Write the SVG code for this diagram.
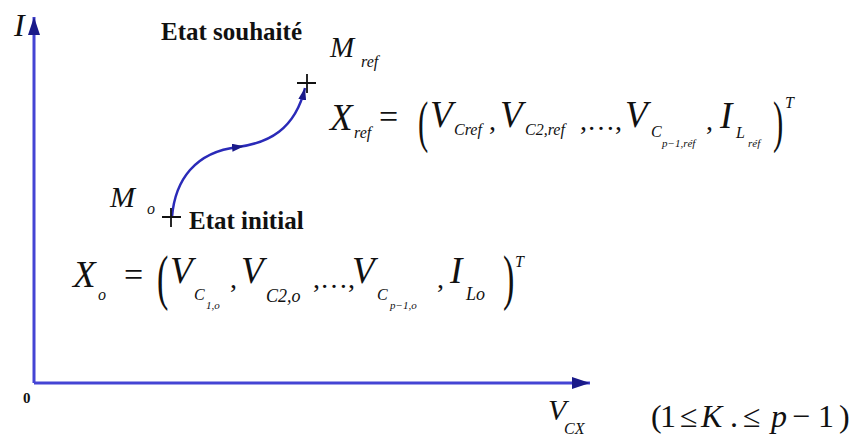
<svg xmlns="http://www.w3.org/2000/svg" width="857" height="437" viewBox="0 0 857 437">
<style>
text{font-family:"Liberation Serif","Times New Roman",serif;fill:#111}
.b{font-weight:bold;font-size:25px}
.m{font-style:italic;font-size:37px}
.s{font-style:italic;font-size:16px}
.ss{font-style:italic;font-size:11px}
.r{font-size:34px}
.axis{stroke:#4444d4;stroke-width:3;fill:none}
.curve{stroke:#2a2ab8;stroke-width:2.5;fill:none}
.cross{stroke:#111;stroke-width:1.8}
</style>
<defs>
<marker id="ah" viewBox="0 0 18 12" refX="18" refY="6" markerWidth="18" markerHeight="12" markerUnits="userSpaceOnUse" orient="auto"><path d="M0,0 L18,6 L0,12 z" fill="#1a1a8a"/></marker>
<marker id="ahs" viewBox="0 0 12 8" refX="6" refY="4" markerWidth="12" markerHeight="8" markerUnits="userSpaceOnUse" orient="auto"><path d="M0,0 L12,4 L0,8 z" fill="#1a1a8a"/></marker>
<marker id="ahe" viewBox="0 0 12 8" refX="12" refY="4" markerWidth="12" markerHeight="8" markerUnits="userSpaceOnUse" orient="auto"><path d="M0,0 L12,4 L0,8 z" fill="#1a1a8a"/></marker>
</defs>
<rect width="857" height="437" fill="#fff"/>
<g id="axes">
<path class="axis" d="M34,383 L34,17" marker-end="url(#ah)"/>
<path class="axis" d="M34,383 L590,383" marker-end="url(#ah)"/>
<text x="14" y="36" class="m" style="font-size:32px">I</text>
<text x="23" y="403" style="font-weight:bold;font-size:15px">0</text>
<text x="548" y="420" class="m" style="font-size:30px">V</text>
<text x="564" y="434" class="s">CX</text>
<text y="427" style="font-size:32px"><tspan x="651">(</tspan><tspan x="660">1</tspan><tspan x="680">≤</tspan><tspan x="701" font-style="italic">K</tspan><tspan x="730">.</tspan><tspan x="743">≤</tspan><tspan x="771" font-style="italic">p</tspan><tspan x="792">−</tspan><tspan x="818">1</tspan><tspan x="839">)</tspan></text>
</g>
<g id="connectors">
<path class="curve" d="M172,217 C175,180 195,152 238,147 C268,143 295,130 305,88" marker-mid="url(#ahs)" marker-end="url(#ahe)"/>
</g>
<g id="node-initial">
<path class="cross" d="M162,217 H181 M171,208 V227"/>
<text x="110" y="207" class="m" style="font-size:30px">M</text>
<text x="147" y="214" class="s">o</text>
<text x="189" y="229" class="b">Etat initial</text>
</g>
<g id="node-target">
<path class="cross" d="M297,83 H316 M307,74 V93"/>
<text x="330" y="57" class="m" style="font-size:29px">M</text>
<text x="361" y="67" class="s">ref</text>
<text x="161" y="40" class="b">Etat souhaité</text>
</g>
<g id="eq-ref">
<text x="330" y="130" class="m">X</text>
<text x="354" y="138" class="s">ref</text>
<text x="379" y="128" class="r">=</text>
<text transform="translate(418,141) scale(0.55,1)" style="font-size:56px">(</text>
<text x="430" y="127" class="m">V</text>
<text x="454" y="135" class="s">Cref</text>
<text x="489" y="130" class="r" style="font-size:28px">,</text>
<text x="500" y="127" class="m">V</text>
<text x="525" y="135" class="s">C2,ref</text>
<text x="580" y="130" class="r" style="font-size:28px">,…,</text>
<text x="625" y="127" class="m">V</text>
<text x="651" y="137" class="s">C</text>
<text x="662" y="147" class="ss">p−1,réf</text>
<text x="706" y="130" class="r" style="font-size:28px">,</text>
<text x="720" y="128" class="m">I</text>
<text x="736" y="138" class="s">L</text>
<text x="748" y="147" class="ss">réf</text>
<text transform="translate(773,141) scale(0.55,1)" style="font-size:56px">)</text>
<text x="785" y="108" class="s">T</text>
</g>
<g id="eq-init">
<text x="73" y="287" class="m">X</text>
<text x="98" y="300" class="s">o</text>
<text x="124" y="286" class="r">=</text>
<text transform="translate(157,298) scale(0.55,1)" style="font-size:62px">(</text>
<text x="170" y="283" class="m">V</text>
<text x="194" y="300" class="s">C</text>
<text x="206" y="309" class="ss">1,o</text>
<text x="230" y="288" class="r" style="font-size:28px">,</text>
<text x="241" y="283" class="m">V</text>
<text x="266" y="302" class="s" style="font-size:18px">C2,o</text>
<text x="313" y="288" class="r" style="font-size:28px">,…,</text>
<text x="352" y="283" class="m">V</text>
<text x="377" y="300" class="s">C</text>
<text x="390" y="309" class="ss">p−1,o</text>
<text x="437" y="288" class="r" style="font-size:28px">,</text>
<text x="450" y="283" class="m">I</text>
<text x="466" y="300" class="s" style="font-size:18px">Lo</text>
<text transform="translate(503,298) scale(0.55,1)" style="font-size:62px">)</text>
<text x="515" y="267" class="s">T</text>
</g>
</svg>
